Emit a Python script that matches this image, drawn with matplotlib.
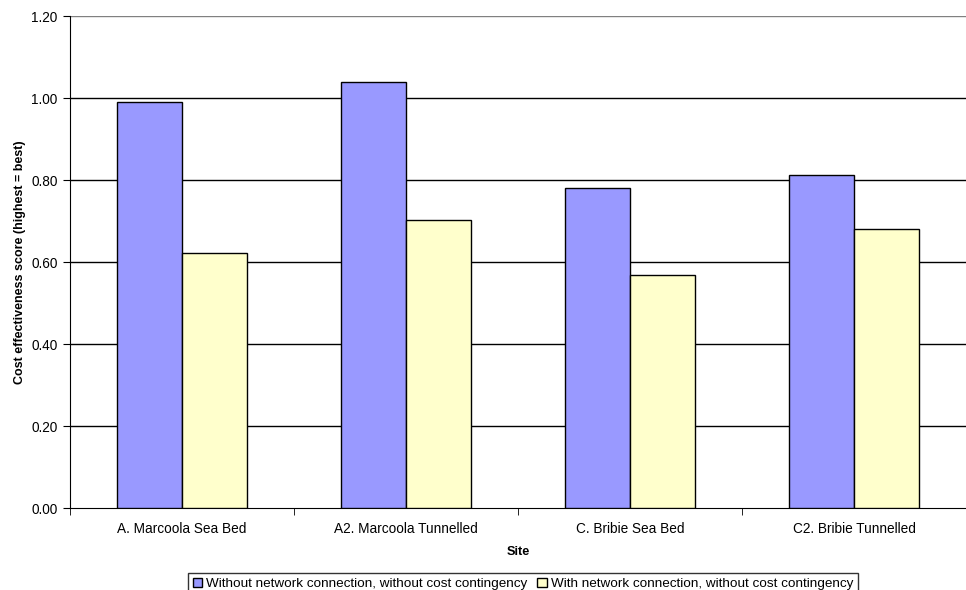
import matplotlib
matplotlib.use("Agg")
import matplotlib.pyplot as plt
import numpy as np

plt.rcParams['font.family'] = ['Liberation Sans', 'DejaVu Sans']

sites = ["A. Marcoola Sea Bed", "A2. Marcoola Tunnelled",
         "C. Bribie Sea Bed", "C2. Bribie Tunnelled"]
without_network = [0.99, 1.04, 0.78, 0.813]
with_network = [0.623, 0.702, 0.569, 0.680]
series_labels = ["Without network connection, without cost contingency",
                 "With network connection, without cost contingency"]
yticks = [0.0, 0.2, 0.4, 0.6, 0.8, 1.0, 1.2]

fig = plt.figure(figsize=(9.66, 5.90), dpi=100)
ax = fig.add_axes([70 / 966, 1 - 508 / 590, 1 - 70 / 966, 492 / 590])

x = np.arange(len(sites))
w = 0.29
ax.bar(x - w / 2, without_network, w, color="#9999ff", edgecolor="black",
       linewidth=1, label=series_labels[0], zorder=3)
ax.bar(x + w / 2, with_network, w, color="#ffffcc", edgecolor="black",
       linewidth=1, label=series_labels[1], zorder=3)

ax.set_xlim(-0.5, len(sites) - 0.5)
ax.set_ylim(0, 1.2)
ax.set_yticks(yticks)
ax.set_yticklabels([f"{v:.2f}" for v in yticks], fontsize=9.8)
ax.set_xticks(x)
ax.set_xticklabels(sites, fontsize=9.8)
ax.tick_params(axis="x", length=0, pad=10)
ax.set_xticks(np.arange(len(sites) + 1) - 0.5, minor=True)
ax.tick_params(axis="x", which="minor", length=5, color="black")
ax.tick_params(axis="y", length=5, color="black", pad=4)

for v in yticks[1:]:
    ax.axhline(v, color="#808080" if v == 1.2 else "black", linewidth=1, zorder=1)

for side in ["top", "right"]:
    ax.spines[side].set_visible(False)
ax.spines["left"].set_color("black")
ax.spines["bottom"].set_color("black")

ax.set_xlabel("Site", fontsize=9.2, fontweight="bold", labelpad=7)
ax.set_ylabel("Cost effectiveness score (highest = best)", fontsize=9.0,
              fontweight="bold", labelpad=4)

leg = fig.legend(loc="upper center", bbox_to_anchor=(523 / 966, 1 - 573 / 590),
                 ncol=2, fontsize=9.7, frameon=True, fancybox=False,
                 edgecolor="black", handlelength=0.7, handleheight=0.7,
                 handletextpad=0.3, columnspacing=0.7, borderpad=0.35,
                 borderaxespad=0)
leg.get_frame().set_linewidth(1)

fig.savefig("out.png", dpi=100)
